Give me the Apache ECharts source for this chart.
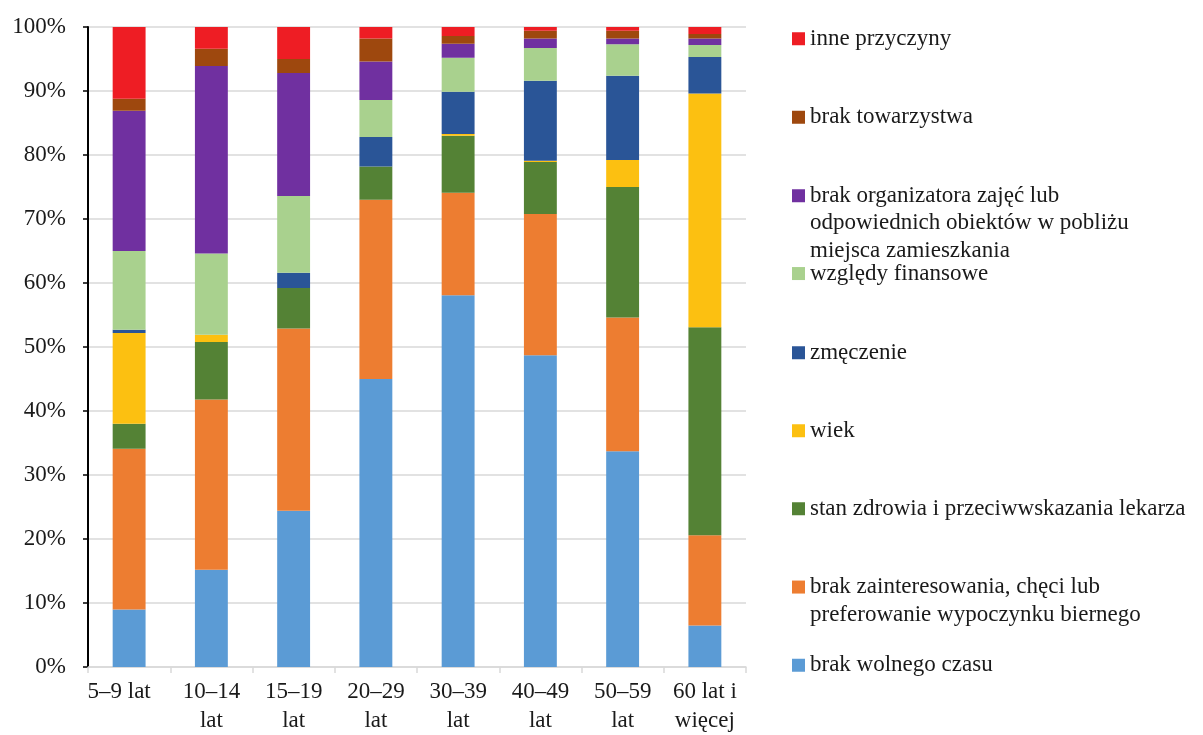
<!DOCTYPE html>
<html><head><meta charset="utf-8">
<script src="https://cdn.jsdelivr.net/npm/echarts@6/dist/echarts.min.js"></script>
<style>html,body{margin:0;padding:0;background:#fff}#c{width:1203px;height:735px}</style>
</head><body><div id="c"></div>
<script>
const categories = ['5–9 lat', '10–14\nlat', '15–19\nlat', '20–29\nlat', '30–39\nlat', '40–49\nlat', '50–59\nlat', '60 lat i\nwięcej'];
const yTicks = [0, 10, 20, 30, 40, 50, 60, 70, 80, 90, 100];

const brakWolnegoCzasu   = [9.0, 15.2, 24.4, 45.0, 58.1, 48.7, 33.7, 6.5];
const brakZainteresowania= [25.1, 26.6, 28.5, 28.0, 16.0, 22.1, 20.9, 14.1];
const stanZdrowia        = [3.9, 9.0, 6.3, 5.2, 8.9, 8.1, 20.4, 32.5];
const wiek               = [14.2, 1.1, 0.0, 0.0, 0.3, 0.2, 4.2, 36.5];
const zmeczenie          = [0.5, 0.0, 2.4, 4.6, 6.6, 12.5, 13.2, 5.7];
const wzgledyFinansowe   = [12.3, 12.7, 12.0, 5.8, 5.3, 5.1, 4.9, 1.9];
const brakOrganizatora   = [21.9, 29.3, 19.2, 6.0, 2.2, 1.5, 0.9, 1.0];
const brakTowarzystwa    = [1.9, 2.7, 2.2, 3.6, 1.2, 1.2, 1.2, 0.7];
const innePrzyczyny      = [11.2, 3.4, 5.0, 1.8, 1.4, 0.6, 0.6, 1.1];

const seriesDefs = [
  {name: 'brak wolnego czasu', data: brakWolnegoCzasu, color: '#5B9BD5', label: ['brak wolnego czasu'], top: 651.5},
  {name: 'brak zainteresowania', data: brakZainteresowania, color: '#ED7D31', label: ['brak zainteresowania, chęci lub', 'preferowanie wypoczynku biernego'], top: 545.8},
  {name: 'stan zdrowia', data: stanZdrowia, color: '#548235', label: ['stan zdrowia i przeciwwskazania lekarza'], top: 495},
  {name: 'wiek', data: wiek, color: '#FCC011', label: ['wiek'], top: 417},
  {name: 'zmęczenie', data: zmeczenie, color: '#2A5597', label: ['zmęczenie'], top: 339},
  {name: 'względy finansowe', data: wzgledyFinansowe, color: '#A9D18E', label: ['względy finansowe'], top: 259.8},
  {name: 'brak organizatora', data: brakOrganizatora, color: '#7030A0', label: ['brak organizatora zajęć lub', 'odpowiednich obiektów w pobliżu', 'miejsca zamieszkania'], top: 127},
  {name: 'brak towarzystwa', data: brakTowarzystwa, color: '#9E480E', label: ['brak towarzystwa'], top: 103.5},
  {name: 'inne przyczyny', data: innePrzyczyny, color: '#EE1D24', label: ['inne przyczyny'], top: 25}
];

const FONT = "'Liberation Serif', 'Times New Roman', serif";
const LH = 27.5;
const TXT = '#1a1a1a';

const legends = seriesDefs.map(s => {
  const n = s.label.length;
  // leading empty lines so the first text line sits on the icon centre
  const text = new Array(n - 1).fill('').concat(s.label).join('\n');
  return {
    data: [s.name],
    orient: 'vertical',
    left: 792,
    top: s.top,
    padding: 0,
    itemWidth: 13,
    itemHeight: 13,
    icon: 'rect',
    selectedMode: false,
    formatter: () => text,
    textStyle: {
      fontFamily: FONT, fontSize: 23, color: TXT, lineHeight: LH,
      backgroundColor: 'rgba(0,0,0,0)'
    }
  };
});

const chart = echarts.init(document.getElementById('c'), null, {renderer: 'canvas'});
chart.setOption({
  animation: false,
  backgroundColor: '#fff',
  legend: legends,
  grid: {left: 88, right: 457, top: 27, bottom: 68, containLabel: false},
  xAxis: {
    type: 'category',
    data: categories,
    axisLine: {lineStyle: {color: '#d9d9d9', width: 1.5}},
    axisTick: {show: true, length: 6, lineStyle: {color: '#d9d9d9', width: 1.5}},
    axisLabel: {
      fontFamily: FONT, fontSize: 23, color: TXT, lineHeight: 28.5, margin: 11, interval: 0,
      formatter: (v, i) => i === 0 ? v + '{pad|}' : v,
      rich: {pad: {width: 20, fontFamily: FONT, fontSize: 23, lineHeight: 28.5}}
    }
  },
  yAxis: {
    type: 'value',
    min: yTicks[0], max: yTicks[yTicks.length - 1], interval: 10,
    axisLine: {show: true, lineStyle: {color: '#000', width: 2}},
    axisTick: {show: true, length: 5, lineStyle: {color: '#000', width: 1.5}},
    axisLabel: {fontFamily: FONT, fontSize: 23, color: TXT, margin: 22, formatter: '{value}%'},
    splitLine: {lineStyle: {color: '#d9d9d9', width: 1.5}}
  },
  series: seriesDefs.map(s => ({
    name: s.name,
    type: 'bar',
    stack: 'total',
    barWidth: '40%',
    data: s.data,
    itemStyle: {color: s.color}
  }))
});
</script>
</body></html>
